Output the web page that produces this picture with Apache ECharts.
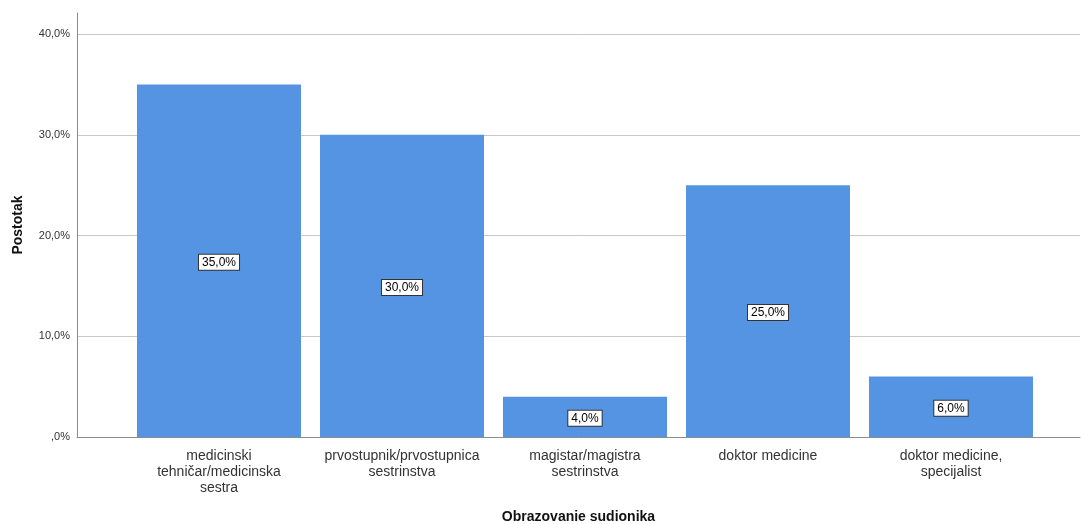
<!DOCTYPE html>
<html>
<head>
<meta charset="utf-8">
<script src="https://cdn.jsdelivr.net/npm/echarts@6/dist/echarts.min.js"></script>
<style>html,body{margin:0;padding:0;background:#fff;}#c{width:1081px;height:524px;}</style>
</head>
<body>
<div id="c"></div>
<script>
const categories = [
  "medicinski\ntehničar/medicinska\nsestra",
  "prvostupnik/prvostupnica\nsestrinstva",
  "magistar/magistra\nsestrinstva",
  "doktor medicine",
  "doktor medicine,\nspecijalist"
];
const values = [35.0, 30.0, 4.0, 25.0, 6.0];
const yTicks = [0, 10, 20, 30, 40];
const xTicks = [0, 1, 2, 3, 4];

function fmtPct(v) {
  const s = v.toFixed(1).replace('.', ',');
  return (v === 0 ? ',0' : s) + '%';
}

const chart = echarts.init(document.getElementById('c'), null, {renderer: 'canvas'});
chart.setOption({
  animation: false,
  textStyle: {fontFamily: 'Liberation Sans, Arial, sans-serif'},
  grid: {left: 77, right: 1, top: 13, bottom: 87, containLabel: false, outerBoundsMode: 'none'},
  xAxis: {
    type: 'value',
    min: -0.776,
    max: 4.705,
    name: 'Obrazovanie sudionika',
    nameLocation: 'middle',
    nameGap: 73,
    nameTextStyle: {fontSize: 14, fontWeight: 'bold', color: '#111'},
    axisLine: {show: true, onZero: false, lineStyle: {color: '#8c8c8c', width: 1}},
    axisTick: {show: false, customValues: xTicks},
    splitLine: {show: false},
    axisLabel: {
      customValues: xTicks,
      formatter: v => categories[Math.round(v)] || '',
      fontSize: 14,
      lineHeight: 16,
      color: '#333',
      margin: 11
    }
  },
  yAxis: {
    type: 'value',
    min: 0,
    max: 42.1,
    name: 'Postotak',
    nameLocation: 'middle',
    nameGap: 52,
    nameTextStyle: {fontSize: 14, fontWeight: 'bold', color: '#111'},
    axisLine: {show: true, onZero: false, lineStyle: {color: '#8c8c8c', width: 1}},
    axisTick: {show: false, customValues: yTicks},
    splitLine: {show: true, lineStyle: {color: '#c8c8c8', width: 1}},
    axisLabel: {
      customValues: yTicks,
      formatter: v => fmtPct(v),
      fontSize: 11,
      color: '#333',
      margin: 7
    }
  },
  series: [{
    type: 'bar',
    data: values.map((v, i) => [xTicks[i], v]),
    barWidth: 164,
    itemStyle: {color: '#5594e3'},
    label: {
      show: true,
      position: 'inside',
      offset: [0, 1.5],
      formatter: p => fmtPct(p.value[1]),
      fontSize: 12,
      color: '#000',
      backgroundColor: '#fff',
      borderColor: '#333',
      borderWidth: 1,
      padding: [2, 3, 1, 3]
    }
  }]
});
</script>
</body>
</html>
